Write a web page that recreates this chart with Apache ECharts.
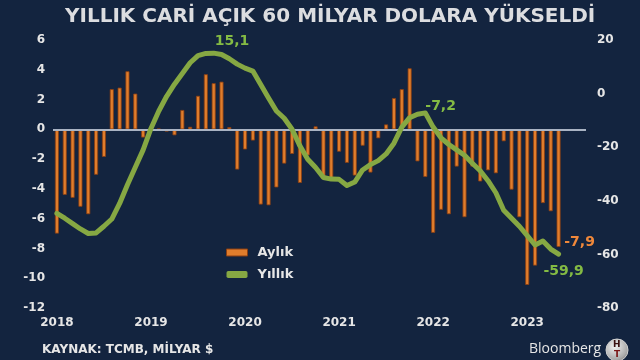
<!DOCTYPE html>
<html>
<head>
<meta charset="utf-8">
<script src="https://cdn.jsdelivr.net/npm/echarts@6/dist/echarts.min.js"></script>
<style>
html,body{margin:0;padding:0;background:#13243f;}
#c{width:640px;height:360px;}
</style>
</head>
<body>
<div id="c"></div>
<script>
// ---- data ----
var startYear = 2018;
var monthCount = 68; // Jan 2018 .. Aug 2023 (axis extent)
var yearLabels = ['2018','2019','2020','2021','2022','2023'];
var leftTicks = [6,4,2,0,-2,-4,-6,-8,-10,-12];
var rightTicks = [20,0,-20,-40,-60,-80];

// Monthly current account balance (Aylık), billion $, Jan 2018 .. May 2023
var monthly = [
  -7.0,-4.4,-4.6,-5.2,-5.7,-3.05,-1.85,2.7,2.8,3.9,2.4,-0.55,
  0.05,0.05,-0.15,-0.4,1.3,0.17,2.25,3.7,3.1,3.2,0.15,-2.7,
  -1.35,-0.75,-5.05,-5.1,-3.9,-2.3,-1.65,-3.6,-1.75,0.2,-3.2,-3.3,
  -1.5,-2.25,-3.1,-1.1,-2.9,-0.6,0.33,2.1,2.7,4.1,-2.15,-3.2,
  -6.95,-5.4,-5.7,-2.5,-5.9,-2.5,-3.5,-2.75,-2.95,-0.8,-4.05,-5.9,
  -10.45,-9.15,-4.95,-5.5,-7.9
];
// 12-month rolling balance (Yıllık), billion $
var annual = [
  -44.7,-46.5,-48.5,-50.5,-52.2,-52.0,-49.5,-46.8,-41.0,-34.0,-27.5,-21.0,
  -13.0,-6.5,-1.0,3.5,7.5,11.5,14.2,15.0,15.1,14.6,13.0,11.0,
  9.5,8.4,3.4,-1.6,-6.5,-9.2,-13.3,-19.5,-24.5,-27.6,-31.3,-31.9,
  -32.0,-34.3,-33.0,-28.5,-26.5,-25.0,-22.5,-18.5,-12.5,-9.0,-7.7,-7.2,
  -12.5,-16.5,-19.0,-21.0,-23.0,-26.0,-28.8,-32.5,-37.0,-43.5,-46.5,-49.5,
  -53.0,-56.5,-55.0,-58.0,-59.9
];
var labelledAnnual = [20, 47, 64]; // indices of annotated points
var labelledMonthly = [64];

// ---- build ----
var categories = [];
for (var i = 0; i < monthCount; i++) {
  var y = startYear + Math.floor(i / 12);
  var m = (i % 12) + 1;
  categories.push(y + '-' + (m < 10 ? '0' + m : m));
}
function fmt(v){ return String(v).replace('.', ','); }
var FONT = 'DejaVu Sans';
var GREEN = '#86a843';
var GREEN_T = '#84bb44';
var ORANGE = '#e07d2c';
var ORANGE_T = '#f0883a';

var barData = monthly.map(function(v, i){
  if (labelledMonthly.indexOf(i) >= 0) {
    return {value: v, label: {show: true, position: 'bottom', offset: [21, -17],
      formatter: function(p){ return fmt(p.value); },
      color: ORANGE_T, fontFamily: FONT, fontWeight: 'bold', fontSize: 14}};
  }
  return v;
});
var linePos = {20: {p: [1, -12], a: 'left'}, 47: {p: [0, -7], a: 'left'}, 64: {p: [5, 17], a: 'center'}};
var lineData = annual.map(function(v, i){
  if (labelledAnnual.indexOf(i) >= 0) {
    return {value: v, label: {show: true, position: linePos[i].p, align: linePos[i].a, verticalAlign: 'middle',
      formatter: function(p){ return fmt(p.value); },
      color: GREEN_T, fontFamily: FONT, fontWeight: 'bold', fontSize: 14}};
  }
  return v;
});

var chart = echarts.init(document.getElementById('c'), null, {renderer: 'canvas'});
chart.setOption({
  backgroundColor: '#13243f',
  animation: false,
  title: {
    text: 'YILLIK CARİ AÇIK 60 MİLYAR DOLARA YÜKSELDİ',
    left: 60, top: 2, padding: 5,
    textStyle: {color: '#dcdde0', fontFamily: FONT, fontWeight: 'bold', fontSize: 20}
  },
  grid: {left: 53, right: 54, top: 40, bottom: 52},
  legend: {
    orient: 'vertical', left: 221, top: 241, itemGap: 9,
    itemWidth: 21, itemHeight: 7,
    textStyle: {color: '#e6e6e6', fontFamily: FONT, fontWeight: 'bold', fontSize: 13, padding: [0,0,0,5]},
    data: [
      {name: 'Aylık', icon: 'rect', itemStyle: {color: ORANGE, borderColor: '#8b3f12', borderWidth: 1}},
      {name: 'Yıllık', icon: 'roundRect', itemStyle: {color: GREEN}}
    ]
  },
  xAxis: {
    type: 'category', data: categories, boundaryGap: true,
    axisLine: {show: false}, axisTick: {show: false}, splitLine: {show: false},
    axisLabel: {
      interval: function(idx){ return idx % 12 === 0; },
      formatter: function(v){ var y = v.slice(0,4); return yearLabels.indexOf(y) >= 0 ? y : ''; },
      color: '#e6e6e6', fontFamily: FONT, fontWeight: 'bold', fontSize: 12, margin: 9
    }
  },
  yAxis: [
    {type: 'value', position: 'left', min: leftTicks[leftTicks.length-1], max: leftTicks[0], interval: 2,
     axisLine: {show: false}, axisTick: {show: false}, splitLine: {show: false},
     axisLabel: {color: '#e6e6e6', fontFamily: FONT, fontWeight: 'bold', fontSize: 12, margin: 8}},
    {type: 'value', position: 'right', min: rightTicks[rightTicks.length-1], max: rightTicks[0], interval: 20,
     axisLine: {show: false}, axisTick: {show: false}, splitLine: {show: false},
     axisLabel: {color: '#e6e6e6', fontFamily: FONT, fontWeight: 'bold', fontSize: 12, margin: 11}}
  ],
  series: [
    {
      name: 'Aylık', type: 'bar', yAxisIndex: 0, data: barData, barWidth: 4,
      itemStyle: {color: ORANGE, borderColor: '#8b3f12', borderWidth: 0.8},
      markLine: {
        silent: true, symbol: 'none', label: {show: false},
        lineStyle: {color: '#a9b3c3', width: 2, type: 'solid'},
        data: [{yAxis: 0}]
      }
    },
    {
      name: 'Yıllık', type: 'line', yAxisIndex: 1, data: lineData,
      showSymbol: true, symbol: 'circle', symbolSize: 0, smooth: false, z: 5,
      lineStyle: {color: GREEN, width: 5, cap: 'round', join: 'round'},
      itemStyle: {color: GREEN}
    }
  ],
  graphic: [
    {type: 'text', left: 42, top: 344,
     style: {text: 'KAYNAK: TCMB, MİLYAR $', fill: '#e6e6e6', font: 'bold 12px "DejaVu Sans"'}},
    {type: 'text', left: 529, top: 342,
     style: {text: 'Bloomberg', fill: '#e6e6e6', font: '14px "Open Sans"'}},
    {type: 'circle', shape: {cx: 617, cy: 350, r: 11},
     style: {fill: new echarts.graphic.RadialGradient(0.4, 0.35, 0.8, [
       {offset: 0, color: '#f2f2f2'}, {offset: 0.7, color: '#a9a9a9'}, {offset: 1, color: '#5e5e5e'}]),
       stroke: '#cfcfcf', lineWidth: 1}},
    {type: 'text', left: 613, top: 340,
     style: {text: 'H', fill: '#3a1010', font: 'bold 9px "DejaVu Sans"'}},
    {type: 'text', left: 614, top: 350,
     style: {text: 'T', fill: '#7a1515', font: 'bold 9px "DejaVu Sans"'}}
  ]
});
</script>
</body>
</html>
